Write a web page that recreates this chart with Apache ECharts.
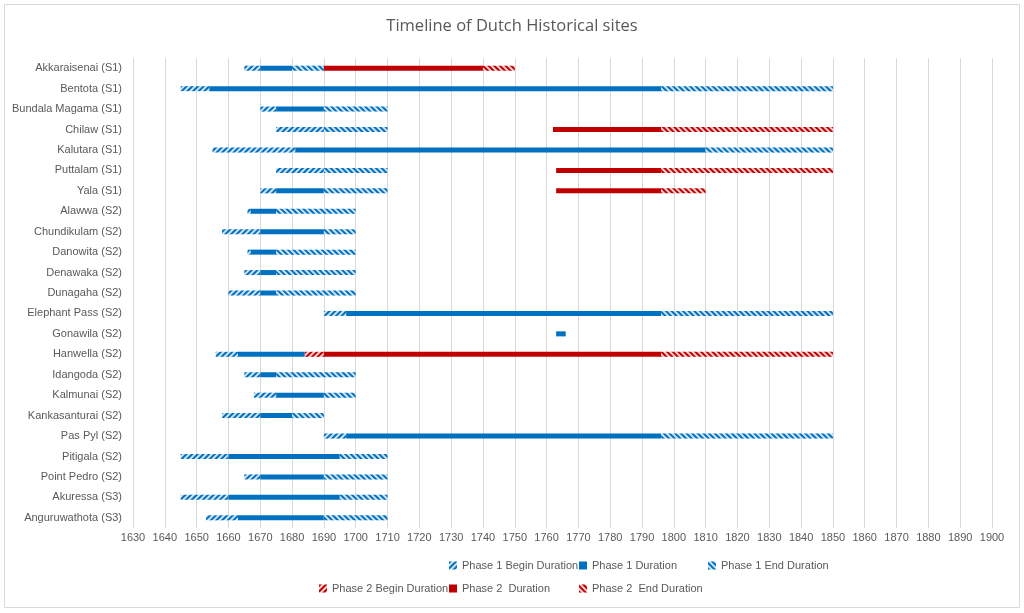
<!DOCTYPE html>
<html>
<head>
<meta charset="utf-8">
<script src="https://cdn.jsdelivr.net/npm/echarts@6/dist/echarts.min.js"></script>
<style>html,body{margin:0;padding:0;background:#fff}#c{width:1024px;height:613px}</style>
</head>
<body>
<div id="c"></div>
<script>
const sites = ["Akkaraisenai (S1)","Bentota (S1)","Bundala Magama (S1)","Chilaw (S1)","Kalutara (S1)","Puttalam (S1)","Yala (S1)","Alawwa (S2)","Chundikulam (S2)","Danowita (S2)","Denawaka (S2)","Dunagaha (S2)","Elephant Pass (S2)","Gonawila (S2)","Hanwella (S2)","Idangoda (S2)","Kalmunai (S2)","Kankasanturai (S2)","Pas Pyl (S2)","Pitigala (S2)","Point Pedro (S2)","Akuressa (S3)","Anguruwathota (S3)"];
const startYear   = [1665,1645,1670,1675,1655,1675,1670,1666,1658,1666,1665,1660,1690,1763,1656,1665,1668,1658,1690,1645,1665,1645,1653];
const p1Begin     = [5,9,5,15,26,15,5,1,12,1,5,10,7,0,7,5,7,12,7,15,5,15,10];
const p1Duration  = [10,142,15,0,129,0,15,8,20,8,5,5,99,3,21,5,15,10,99,35,20,35,27];
const p1End       = [10,54,20,20,40,20,20,25,10,25,25,25,54,0,0,25,10,10,54,15,20,15,20];
const gapYears    = [0,0,0,52,0,53,53,0,0,0,0,0,0,0,0,0,0,0,0,0,0,0,0];
const p2Begin     = [0,0,0,0,0,0,0,0,0,0,0,0,0,0,6,0,0,0,0,0,0,0,0];
const p2Duration  = [50,0,0,34,0,33,33,0,0,0,0,0,0,0,106,0,0,0,0,0,0,0,0];
const p2End       = [10,0,0,54,0,54,14,0,0,0,0,0,0,0,54,0,0,0,0,0,0,0,0];

const BLUE = '#0070C0', RED = '#C00000';
const FONT = 'Liberation Sans';
function hatch(color, dir) {
  return { symbol: 'rect', symbolSize: 1, dashArrayX: [1, 0], dashArrayY: [1.2, 1.4],
           rotation: dir * Math.PI / 4, color: color, backgroundColor: 'rgba(0,0,0,0)' };
}
const BW = 5;
function hidden(name, data) {
  return { name: name, type: 'bar', stack: 't', data: data, barWidth: BW, silent: true,
           itemStyle: { color: 'rgba(0,0,0,0)' } };
}
function solid(name, data, color) {
  return { name: name, type: 'bar', stack: 't', data: data, barWidth: BW, itemStyle: { color: color } };
}
function hatched(name, data, color, bg, dir) {
  return { name: name, type: 'bar', stack: 't', data: data, barWidth: BW,
           itemStyle: { color: bg, decal: hatch(color, dir) } };
}
const chart = echarts.init(document.getElementById('c'), null, { renderer: 'canvas' });
function leg(name, left, top) {
  return { data: [name], left: left, top: top, itemWidth: 8, itemHeight: 8, itemGap: 0,
           icon: 'rect', textStyle: { color: '#595959', fontSize: 11, fontFamily: FONT }, selectedMode: false };
}
chart.setOption({
  animation: false,
  backgroundColor: '#fff',
  title: { text: 'Timeline of Dutch Historical sites', left: 'center', top: 13,
           textStyle: { color: '#595959', fontSize: 16.5, fontWeight: 'normal', fontFamily: 'Open Sans' } },
  graphic: [{ type: 'rect', shape: { x: 4.5, y: 4.5, width: 1015, height: 603 },
              style: { fill: 'none', stroke: '#d9d9d9', lineWidth: 1 }, silent: true }],
  legend: [
    leg('Phase 1 Begin Duration', 444, 555),
    leg('Phase 1 Duration', 574, 555),
    leg('Phase 1 End Duration', 703, 555),
    leg('Phase 2 Begin Duration', 314, 578),
    leg('Phase 2  Duration', 444, 578),
    leg('Phase 2  End Duration', 574, 578)
  ],
  grid: { left: 133, right: 32, top: 58, height: 470 },
  xAxis: {
    type: 'value', min: 1630, max: 1900, interval: 10,
    axisLine: { show: false }, axisTick: { show: false },
    splitLine: { show: true, lineStyle: { color: '#d9d9d9', width: 1 } },
    axisLabel: { color: '#595959', fontSize: 11, fontFamily: FONT, margin: 4,
                 formatter: function (v) { return String(v); } }
  },
  yAxis: {
    type: 'category', data: sites, inverse: true,
    axisLine: { show: false }, axisTick: { show: false },
    axisLabel: { color: '#595959', fontSize: 11, fontFamily: FONT, margin: 11 }
  },
  series: [
    hidden('start', startYear),
    hatched('Phase 1 Begin Duration', p1Begin, BLUE, '#cfe3f5', -1),
    solid('Phase 1 Duration', p1Duration, BLUE),
    hatched('Phase 1 End Duration', p1End, BLUE, '#cfe3f5', 1),
    hidden('gap', gapYears),
    hatched('Phase 2 Begin Duration', p2Begin, RED, '#f6d0d0', -1),
    solid('Phase 2  Duration', p2Duration, RED),
    hatched('Phase 2  End Duration', p2End, RED, '#f6d0d0', 1)
  ]
});
</script>
</body>
</html>
